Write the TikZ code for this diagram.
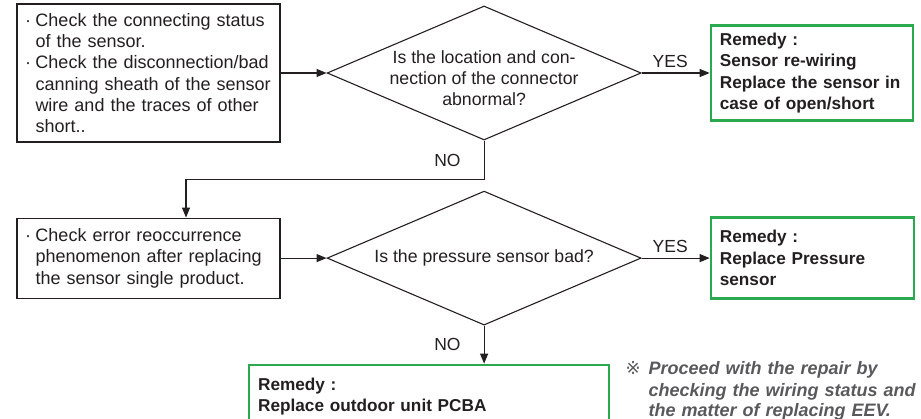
\documentclass[tikz,border=0pt]{standalone}
\usepackage{fontspec}
\setmainfont{Liberation Sans}
\newfontfamily\markfont{DejaVu Sans}
\usetikzlibrary{shapes.geometric, positioning, arrows.meta}

\definecolor{ink}{RGB}{35,31,32}
\definecolor{remgreen}{RGB}{43,169,78}
\definecolor{notegray}{RGB}{88,89,91}

\newcommand{\itm}{\makebox[10.5pt][l]{\textperiodcentered}}
\newcommand{\ind}{\hspace*{10.5pt}}

\begin{document}
\begin{tikzpicture}[x=1pt, y=-1pt, > = {Triangle[length=10pt,width=8pt]}, line width=1.1pt, color=ink,
    check/.style = {draw, rectangle, align=left, inner xsep=8pt, inner ysep=0pt, text width=247pt,
      font=\fontsize{18pt}{21.3pt}\selectfont},
    question/.style = {draw, diamond, aspect=2.34, align=center, inner sep=-6pt, minimum width=314pt,
      minimum height=134pt, font=\fontsize{17.7pt}{21.3pt}\selectfont},
    remedy/.style = {draw=remgreen, line width=2.4pt, rectangle, align=left, inner xsep=9pt, inner ysep=0pt,
      font=\fontsize{17.2pt}{21.3pt}\selectfont\bfseries},
    answer/.style = {inner sep=0pt, font=\fontsize{17.5pt}{21pt}\selectfont}]
  \useasboundingbox (0,0) rectangle (921,419);

  \node[check, minimum height=138pt] (chk1) at (148.5,73) {\itm Check the connecting status\\
    \ind of the sensor.\\
    \itm Check the disconnection/bad\\
    \ind canning sheath of the sensor\\
    \ind wire and the traces of other\\
    \ind short..};
  \node[question] (q1) [right=46pt of chk1]
    {\rule{0pt}{23pt}Is the location and con-\\nection of the connector\\abnormal?};
  \node[remedy, text width=184pt, minimum height=95pt] (rem1) [right=68pt of q1]
    {Remedy :\\Sensor re-wiring\\Replace the sensor in\\case of open/short};

  \node[check, minimum height=80pt] (chk2) [below=75pt of chk1] {\itm Check error reoccurrence\\
    \ind phenomenon after replacing\\
    \ind the sensor single product.};
  \node[question] (q2) [right=46pt of chk2] {Is the pressure sensor bad?};
  \node[remedy, text width=185pt, minimum height=81pt] (rem2) [right=68pt of q2]
    {Remedy :\\Replace Pressure\\sensor};
  \node[remedy, text width=342pt, minimum height=64pt] (rem3) [below=38pt of q2, xshift=-55pt]
    {Remedy :\\Replace outdoor unit PCBA};

  \node[anchor=base west, inner sep=0pt, align=left, text width=296pt, text=notegray,
    font=\fontsize{18pt}{21pt}\selectfont\bfseries\itshape] (note) at (625,375)
    {\makebox[23pt][l]{\markfont\mdseries\upshape ※}Proceed with the repair by\\
     \hspace*{23pt}checking the wiring status and\\
     \hspace*{23pt}the matter of replacing EEV.};

  \draw[->] (chk1) -- (q1);
  \draw[->] (q1) -- node[answer, above=5pt, pos=0.42] {YES} (rem1);
  \draw[->] (q1.south) -- node[answer, left=23pt] {NO} ++(0,39) -| ([xshift=37.5pt]chk2.north);
  \draw[->] (chk2) -- (q2);
  \draw[->] (q2) -- node[answer, above=5pt, pos=0.42] {YES} (rem2);
  \draw[->] (q2.south) -- node[answer, left=23pt] {NO} (q2.south |- rem3.north);
\end{tikzpicture}
\end{document}
